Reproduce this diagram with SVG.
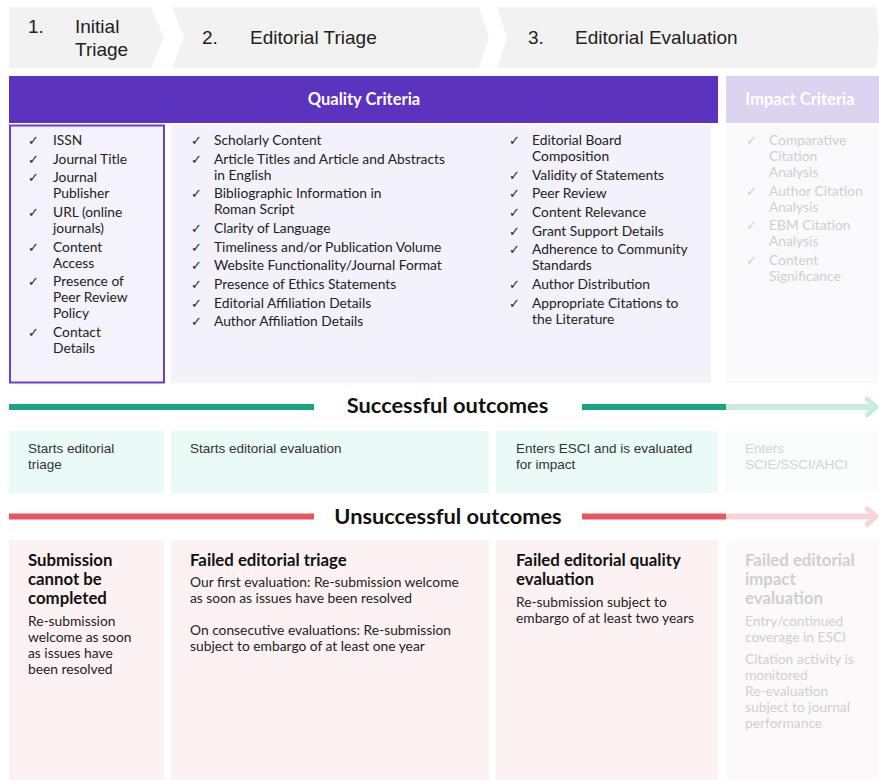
<svg xmlns="http://www.w3.org/2000/svg" width="879" height="780" viewBox="0 0 879 780">
<style>
.chev{fill:#f2f2f2}
.ct{font-family:"Liberation Sans",Arial,sans-serif;font-size:19px;fill:#222}
.hd{font-family:Lato,"Liberation Sans",sans-serif;font-size:16.5px;font-weight:bold;fill:#fff;text-anchor:middle}
.b{font-family:Lato,"Liberation Sans",sans-serif;font-size:13.8px;fill:#222}
.g{fill:#cfcfcf}
.ck{font-family:"DejaVu Sans",sans-serif;font-size:13px;fill:#222}
.ckg{font-family:"DejaVu Sans",sans-serif;font-size:13px;fill:#d0d0d0}
.s{font-family:"Liberation Sans",Arial,sans-serif;font-size:13.5px;fill:#333}
.sg{fill:#d3d3d3}
.ot{font-family:Lato,"Liberation Sans",sans-serif;font-size:21.8px;font-weight:bold;fill:#111;text-anchor:middle}
.ft{font-family:Lato,"Liberation Sans",sans-serif;font-size:16.8px;font-weight:bold;fill:#111}
.fg{fill:#cfcfcf}
</style>
<defs>
<marker id="arrG" markerWidth="14" markerHeight="20" refX="11" refY="10" orient="auto" markerUnits="userSpaceOnUse">
<path d="M2,2 L11,10 L2,18" fill="none" stroke="#c8ebdf" stroke-width="5" stroke-linecap="round" stroke-linejoin="round"/>
</marker>
<marker id="arrR" markerWidth="14" markerHeight="20" refX="11" refY="10" orient="auto" markerUnits="userSpaceOnUse">
<path d="M2,2 L11,10 L2,18" fill="none" stroke="#f8d3d8" stroke-width="5" stroke-linecap="round" stroke-linejoin="round"/>
</marker>
</defs>

<g id="stage1">
<polygon class="chev" points="9,7 151,7 164,37.5 151,68 9,68"/>
<text class="ct" x="28" y="33">1.</text>
<text class="ct" x="75" y="33">Initial</text>
<text class="ct" x="75" y="56">Triage</text>
</g>
<g id="stage2">
<polygon class="chev" points="172,7 479,7 489,37.5 479,68 172,68 184,37.5"/>
<text class="ct" x="202" y="44">2.</text>
<text class="ct" x="250" y="44">Editorial Triage</text>
</g>
<g id="stage3">
<polygon class="chev" points="497,7 876,7 879,37.5 876,68 497,68 507,37.5"/>
<text class="ct" x="528" y="44">3.</text>
<text class="ct" x="575" y="44">Editorial Evaluation</text>
</g>

<g id="quality-header">
<rect x="9" y="76" width="709" height="47" fill="#5c33be"/>
<text class="hd" x="364" y="105">Quality Criteria</text>
</g>
<g id="impact-header">
<rect x="726" y="76" width="153" height="47" fill="#dcd3f0"/>
<text class="hd" x="800" y="105">Impact Criteria</text>
</g>

<g id="initial-criteria">
<rect x="10" y="125.5" width="154" height="257" fill="#f4f2fa" stroke="#6a40c8" stroke-width="2"/>
<g class="ck">
<text x="28" y="145">✓</text><text x="28" y="164">✓</text><text x="28" y="182">✓</text><text x="28" y="217">✓</text><text x="28" y="252">✓</text><text x="28" y="286">✓</text><text x="28" y="337">✓</text>
</g>
<g class="b">
<text x="53" y="145">ISSN</text>
<text x="53" y="164">Journal Title</text>
<text x="53" y="182">Journal</text>
<text x="53" y="198">Publisher</text>
<text x="53" y="217">URL (online</text>
<text x="53" y="233">journals)</text>
<text x="53" y="252">Content</text>
<text x="53" y="268">Access</text>
<text x="53" y="286">Presence of</text>
<text x="53" y="302">Peer Review</text>
<text x="53" y="318">Policy</text>
<text x="53" y="337">Contact</text>
<text x="53" y="353">Details</text>
</g>
</g>

<g id="editorial-criteria">
<rect x="171" y="125" width="540" height="258" fill="#f3f1fa"/>
<g class="ck">
<text x="191" y="145">✓</text><text x="191" y="164">✓</text><text x="191" y="198">✓</text><text x="191" y="233">✓</text><text x="191" y="252">✓</text><text x="191" y="270">✓</text><text x="191" y="289">✓</text><text x="191" y="308">✓</text><text x="191" y="326">✓</text>
</g>
<g class="b">
<text x="214" y="145">Scholarly Content</text>
<text x="214" y="164">Article Titles and Article and Abstracts</text>
<text x="214" y="180">in English</text>
<text x="214" y="198">Bibliographic Information in</text>
<text x="214" y="214">Roman Script</text>
<text x="214" y="233">Clarity of Language</text>
<text x="214" y="252">Timeliness and/or Publication Volume</text>
<text x="214" y="270">Website Functionality/Journal Format</text>
<text x="214" y="289">Presence of Ethics Statements</text>
<text x="214" y="308">Editorial Affiliation Details</text>
<text x="214" y="326">Author Affiliation Details</text>
</g>
<g class="ck">
<text x="509" y="145">✓</text><text x="509" y="180">✓</text><text x="509" y="198">✓</text><text x="509" y="217">✓</text><text x="509" y="236">✓</text><text x="509" y="254">✓</text><text x="509" y="289">✓</text><text x="509" y="308">✓</text>
</g>
<g class="b">
<text x="532" y="145">Editorial Board</text>
<text x="532" y="161">Composition</text>
<text x="532" y="180">Validity of Statements</text>
<text x="532" y="198">Peer Review</text>
<text x="532" y="217">Content Relevance</text>
<text x="532" y="236">Grant Support Details</text>
<text x="532" y="254">Adherence to Community</text>
<text x="532" y="270">Standards</text>
<text x="532" y="289">Author Distribution</text>
<text x="532" y="308">Appropriate Citations to</text>
<text x="532" y="324">the Literature</text>
</g>
</g>

<g id="impact-criteria">
<rect x="726" y="125" width="153" height="258" fill="#fafafd"/>
<g class="ckg">
<text x="746" y="145">✓</text><text x="746" y="196">✓</text><text x="746" y="230">✓</text><text x="746" y="265">✓</text>
</g>
<g class="b g">
<text x="769" y="145">Comparative</text>
<text x="769" y="161">Citation</text>
<text x="769" y="177">Analysis</text>
<text x="769" y="196">Author Citation</text>
<text x="769" y="212">Analysis</text>
<text x="769" y="230">EBM Citation</text>
<text x="769" y="246">Analysis</text>
<text x="769" y="265">Content</text>
<text x="769" y="281">Significance</text>
</g>
</g>

<g id="connectors">
<line x1="9" y1="407" x2="314" y2="407" stroke="#1ba37f" stroke-width="6"/>
<line x1="582" y1="407" x2="726" y2="407" stroke="#1ba37f" stroke-width="6"/>
<line x1="726" y1="407" x2="876" y2="407" stroke="#c8ebdf" stroke-width="6" marker-end="url(#arrG)"/>
<line x1="9" y1="516.5" x2="314" y2="516.5" stroke="#e8545f" stroke-width="6"/>
<line x1="582" y1="516.5" x2="726" y2="516.5" stroke="#e8545f" stroke-width="6"/>
<line x1="726" y1="516.5" x2="876" y2="516.5" stroke="#f8d3d8" stroke-width="6" marker-end="url(#arrR)"/>
</g>
<g id="successful-label">
<text class="ot" x="447.5" y="413">Successful outcomes</text>
</g>
<g id="unsuccessful-label">
<text class="ot" x="448" y="524">Unsuccessful outcomes</text>
</g>

<g id="success-1">
<rect x="9" y="431" width="155" height="62" fill="#eafaf6"/>
<text class="s" x="28" y="453">Starts editorial</text>
<text class="s" x="28" y="469">triage</text>
</g>
<g id="success-2">
<rect x="171" y="431" width="318" height="62" fill="#eafaf6"/>
<text class="s" x="190" y="453">Starts editorial evaluation</text>
</g>
<g id="success-3">
<rect x="496" y="431" width="222" height="62" fill="#eafaf6"/>
<text class="s" x="516" y="453">Enters ESCI and is evaluated</text>
<text class="s" x="516" y="469">for impact</text>
</g>
<g id="success-4">
<rect x="726" y="431" width="153" height="62" fill="#fafcfc"/>
<text class="s sg" x="745" y="453">Enters</text>
<text class="s sg" x="745" y="469">SCIE/SSCI/AHCI</text>
</g>

<g id="fail-1">
<rect x="9" y="540" width="155" height="240" fill="#fcf2f3"/>
<text class="ft" x="28" y="566">Submission</text>
<text class="ft" x="28" y="585">cannot be</text>
<text class="ft" x="28" y="604">completed</text>
<g class="b">
<text x="28" y="626">Re-submission</text>
<text x="28" y="642">welcome as soon</text>
<text x="28" y="658">as issues have</text>
<text x="28" y="674">been resolved</text>
</g>
</g>
<g id="fail-2">
<rect x="171" y="540" width="318" height="240" fill="#fcf2f3"/>
<text class="ft" x="190" y="566">Failed editorial triage</text>
<g class="b">
<text x="190" y="587">Our first evaluation: Re-submission welcome</text>
<text x="190" y="603">as soon as issues have been resolved</text>
<text x="190" y="635">On consecutive evaluations: Re-submission</text>
<text x="190" y="651">subject to embargo of at least one year</text>
</g>
</g>
<g id="fail-3">
<rect x="496" y="540" width="222" height="240" fill="#fcf2f3"/>
<text class="ft" x="516" y="566">Failed editorial quality</text>
<text class="ft" x="516" y="585">evaluation</text>
<g class="b">
<text x="516" y="607">Re-submission subject to</text>
<text x="516" y="623">embargo of at least two years</text>
</g>
</g>
<g id="fail-4">
<rect x="726" y="540" width="153" height="240" fill="#fdf9fa"/>
<text class="ft fg" x="745" y="566">Failed editorial</text>
<text class="ft fg" x="745" y="585">impact</text>
<text class="ft fg" x="745" y="604">evaluation</text>
<g class="b g">
<text x="745" y="626">Entry/continued</text>
<text x="745" y="642">coverage in ESCI</text>
<text x="745" y="664">Citation activity is</text>
<text x="745" y="680">monitored</text>
<text x="745" y="696">Re-evaluation</text>
<text x="745" y="712">subject to journal</text>
<text x="745" y="728">performance</text>
</g>
</g>
</svg>
